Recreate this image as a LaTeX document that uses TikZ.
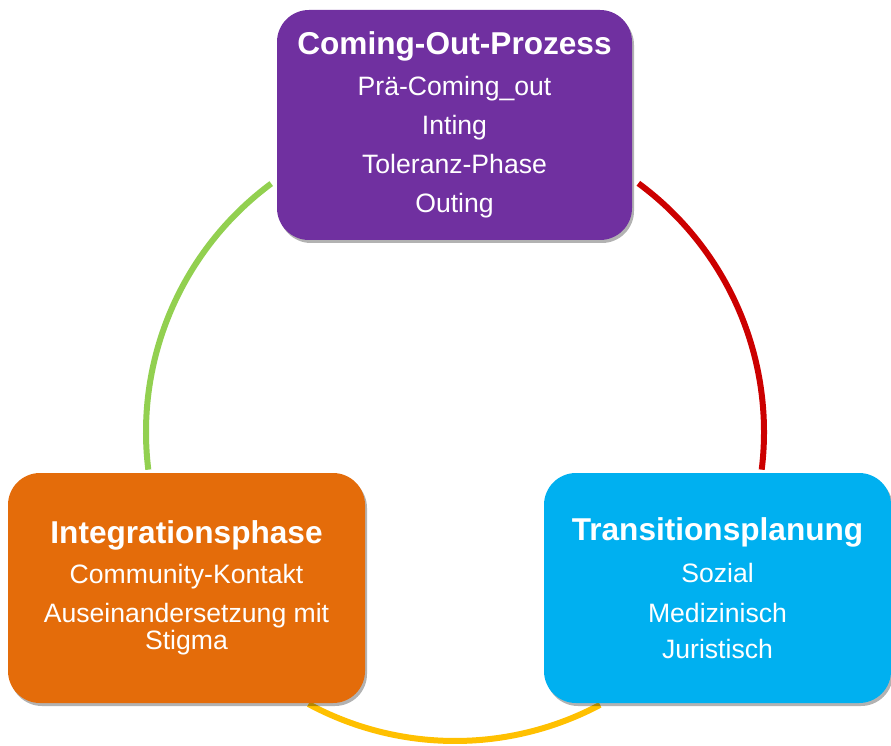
\documentclass[tikz,border=0pt]{standalone}
\usepackage{fontspec}
\setmainfont{Liberation Sans}
\usetikzlibrary{shadows}
\definecolor{phasepurple}{HTML}{7030A0}
\definecolor{phaseorange}{HTML}{E46C0A}
\definecolor{phaseblue}{HTML}{00B0F0}
\definecolor{ringgreen}{HTML}{92D050}
\definecolor{ringred}{HTML}{CC0000}
\definecolor{ringyellow}{HTML}{FFC000}
\newcommand{\phasetitle}[1]{{\bfseries\fontsize{31.6}{39}\selectfont #1}}
\begin{document}
\begin{tikzpicture}[x=1pt,y=1pt,
  phase/.style={rounded corners=32pt, minimum height=230pt, inner sep=0pt, text=white, align=center,
    font=\fontsize{26.6}{39}\selectfont,
    drop shadow={shadow xshift=2pt, shadow yshift=-3pt, opacity=0.3, fill=black}},
  ring/.style={line width=6pt}]
\useasboundingbox (0,0) rectangle (891,745);
% ring behind the boxes
\coordinate (mid) at (455,313);
\draw[ring, ringgreen] (mid) ++(126.5:309) arc[start angle=126.5, end angle=187, radius=309];
\draw[ring, ringred] (mid) ++(53.6:309) arc[start angle=53.6, end angle=-7, radius=309];
\draw[ring, ringyellow] (mid) ++(-118.3:309) arc[start angle=-118.3, end angle=-62, radius=309];
% phases
\node[phase, fill=phasepurple, minimum width=355pt] (comingout) at (454.5,620)
  {\phasetitle{Coming-Out-Prozess}\\[2pt] Prä-Coming\_out\\ Inting\\ Toleranz-Phase\\ Outing};
\node[phase, fill=phaseorange, minimum width=357pt] (integration) at (186.5,157)
  {\phasetitle{Integrationsphase}\\[1pt] Community-Kontakt\\ Auseinandersetzung mit\\[-12pt] Stigma};
\node[phase, fill=phaseblue, minimum width=347pt] (transition) at (717.5,157)
  {\phasetitle{Transitionsplanung}\\[3pt] Sozial\\[1pt] Medizinisch\\[-3pt] Juristisch};
\end{tikzpicture}
\end{document}
